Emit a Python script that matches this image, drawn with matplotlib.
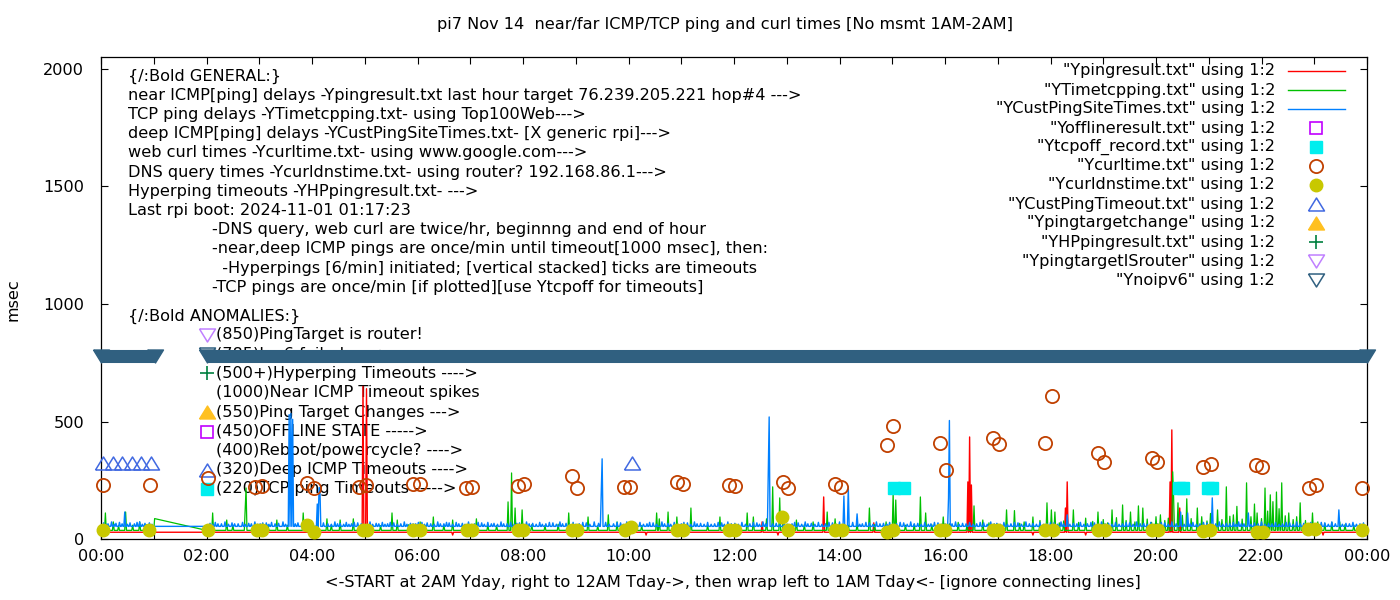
import numpy as np
import matplotlib
matplotlib.use("Agg")
import matplotlib.pyplot as plt

TITLE = "pi7 Nov 14  near/far ICMP/TCP ping and curl times [No msmt 1AM-2AM]"
XLABEL = "<-START at 2AM Yday, right to 12AM Tday->, then wrap left to 1AM Tday<- [ignore connecting lines]"
YLABEL = "msec"

HOUR_TICKS = list(range(0, 25))
HOUR_LABELS = ["00:00", "", "02:00", "", "04:00", "", "06:00", "", "08:00", "", "10:00", "", "12:00",
               "", "14:00", "", "16:00", "", "18:00", "", "20:00", "", "22:00", "", "00:00"]
Y_TICKS = [0, 500, 1000, 1500, 2000]

# minutes of day; no measurements between these two
GAP = (61, 120)

# near ICMP (Ypingresult.txt): baseline + (minute, msec) spikes
NEAR_BASE = 30
NEAR_SPIKES = [(298, 650), (302, 640), (400, 18), (620, 18), (752, 74), (770, 18), (822, 180),
               (879, 70), (905, 18), (986, 244), (988, 435), (990, 231), (1060, 18), (1097, 133),
               (1099, 244), (1120, 18), (1216, 244), (1218, 465), (1227, 133), (1250, 18),
               (1320, 18), (1390, 18)]

# TCP ping (YTimetcpping.txt)
TCP_BASE = 38
TCP_SPIKES = [(5, 112), (14, 74), (20, 58), (28, 116), (36, 60), (44, 74), (52, 62), (61, 88),
              (127, 112), (143, 82), (150, 60), (164, 133), (165, 218), (175, 58), (190, 62),
              (200, 82), (212, 60), (230, 112), (245, 58), (257, 87), (262, 62), (272, 82),
              (287, 87), (300, 60), (318, 58), (331, 112), (337, 82), (350, 62), (363, 74),
              (378, 95), (390, 60), (400, 82), (415, 58), (427, 87), (440, 62), (450, 58),
              (463, 159), (467, 282), (471, 133), (479, 125), (490, 62), (505, 58), (520, 64),
              (532, 112), (545, 60), (554, 95), (565, 58), (577, 104), (587, 74), (600, 62),
              (615, 58), (632, 112), (635, 87), (645, 116), (655, 95), (660, 62), (671, 133),
              (690, 60), (704, 95), (715, 58), (725, 62), (735, 112), (742, 95), (757, 87),
              (764, 223), (772, 176), (776, 104), (780, 64), (791, 82), (800, 62), (810, 74),
              (826, 116), (835, 87), (850, 60), (860, 64), (874, 133), (880, 62), (893, 74),
              (901, 197), (904, 167), (915, 60), (925, 64), (932, 180), (938, 112), (945, 62),
              (958, 95), (965, 66), (975, 72), (985, 60), (993, 142), (1003, 82), (1010, 70),
              (1020, 64), (1030, 125), (1039, 122), (1045, 68), (1050, 74), (1060, 95),
              (1068, 80), (1076, 155), (1081, 125), (1085, 116), (1090, 70), (1095, 78),
              (1106, 125), (1112, 72), (1120, 90), (1128, 76), (1134, 116), (1140, 84),
              (1145, 70), (1150, 125), (1155, 92), (1162, 146), (1166, 80), (1171, 116),
              (1176, 74), (1180, 142), (1185, 133), (1190, 86), (1195, 72), (1200, 96),
              (1205, 104), (1210, 80), (1214, 90), (1219, 287), (1220, 180), (1225, 155),
              (1230, 102), (1235, 172), (1240, 88), (1247, 133), (1252, 96), (1258, 78),
              (1262, 110), (1270, 125), (1275, 84), (1280, 223), (1284, 98), (1288, 104),
              (1292, 140), (1298, 86), (1303, 240), (1308, 96), (1312, 150), (1315, 112),
              (1320, 88), (1324, 218), (1327, 120), (1330, 189), (1333, 160), (1337, 201),
              (1340, 130), (1343, 240), (1347, 100), (1351, 112), (1356, 84), (1360, 96),
              (1364, 155), (1370, 80), (1378, 112), (1384, 74), (1392, 68), (1400, 72),
              (1409, 74), (1415, 62), (1425, 60)]

# deep ICMP (YCustPingSiteTimes.txt)
DEEP_BASE = 55
DEEP_SPIKES = [(3, 70), (6, 64), (8, 66), (12, 74), (15, 64), (17, 68), (21, 72), (24, 66),
               (27, 116), (30, 64), (33, 70), (38, 66), (41, 72), (44, 74), (47, 64), (50, 68),
               (55, 70), (58, 64), (124, 68), (127, 64), (130, 72), (133, 66), (137, 66),
               (141, 74), (145, 64), (149, 70), (152, 66), (156, 66), (161, 72), (164, 64),
               (168, 68), (171, 66), (175, 74), (178, 64), (181, 66), (184, 70), (188, 70),
               (191, 64), (194, 72), (198, 66), (202, 68), (207, 74), (210, 64), (214, 530),
               (216, 535), (218, 510), (221, 66), (224, 70), (229, 66), (232, 72), (236, 72),
               (240, 64), (246, 150), (248, 219), (249, 219), (253, 70), (258, 66), (262, 64),
               (266, 74), (269, 66), (272, 68), (276, 64), (279, 72), (282, 64), (285, 66),
               (288, 72), (292, 70), (296, 66), (306, 74), (309, 64), (313, 68), (316, 66),
               (320, 72), (323, 64), (326, 66), (329, 72), (333, 70), (337, 64), (341, 66),
               (345, 74), (348, 64), (352, 68), (355, 66), (358, 66), (361, 72), (365, 72),
               (368, 64), (371, 70), (375, 66), (379, 64), (383, 74), (386, 66), (390, 66),
               (393, 72), (396, 70), (400, 64), (404, 72), (407, 66), (411, 68), (414, 64),
               (418, 74), (421, 64), (425, 66), (429, 72), (433, 70), (436, 64), (440, 72),
               (444, 66), (447, 68), (451, 64), (455, 74), (458, 66), (462, 66), (466, 72),
               (470, 64), (473, 68), (476, 70), (480, 64), (484, 74), (487, 66), (491, 68),
               (495, 64), (499, 72), (502, 64), (506, 66), (510, 72), (514, 70), (518, 64),
               (522, 74), (525, 66), (529, 68), (533, 64), (537, 72), (540, 64), (544, 66),
               (548, 72), (552, 70), (556, 64), (561, 74), (566, 68), (569, 200), (570, 342),
               (574, 72), (578, 64), (583, 66), (587, 72), (591, 70), (594, 64), (598, 74),
               (602, 66), (606, 68), (609, 64), (613, 72), (617, 64), (621, 66), (624, 72),
               (628, 70), (632, 64), (638, 74), (641, 66), (645, 68), (648, 64), (652, 72),
               (656, 64), (660, 66), (663, 72), (667, 70), (671, 64), (675, 74), (678, 66),
               (682, 68), (686, 64), (690, 72), (694, 64), (698, 66), (702, 72), (706, 70),
               (709, 64), (713, 74), (717, 66), (721, 68), (725, 64), (729, 72), (733, 64),
               (738, 66), (742, 72), (746, 70), (749, 64), (753, 74), (756, 66), (759, 290),
               (760, 520), (764, 66), (768, 68), (772, 64), (777, 72), (781, 64), (786, 66),
               (789, 72), (793, 70), (797, 64), (801, 74), (804, 66), (808, 68), (812, 64),
               (816, 72), (820, 64), (824, 66), (828, 72), (832, 70), (836, 64), (840, 74),
               (845, 184), (850, 223), (855, 72), (860, 108), (863, 64), (866, 66), (870, 72),
               (874, 70), (878, 64), (882, 74), (886, 66), (890, 68), (894, 64), (897, 72),
               (901, 64), (905, 66), (909, 72), (913, 70), (917, 64), (921, 74), (925, 66),
               (929, 68), (933, 64), (937, 72), (941, 64), (944, 66), (948, 72), (952, 70),
               (956, 64), (960, 66), (964, 175), (965, 505), (968, 66), (972, 74), (976, 64),
               (980, 68), (984, 66), (988, 72), (992, 64), (996, 66), (1000, 72), (1004, 70),
               (1008, 64), (1012, 74), (1016, 66), (1019, 68), (1023, 64), (1027, 72),
               (1031, 64), (1035, 66), (1039, 72), (1043, 70), (1047, 64), (1052, 74),
               (1056, 66), (1060, 68), (1064, 64), (1068, 72), (1072, 64), (1076, 66),
               (1080, 72), (1084, 70), (1088, 64), (1092, 74), (1095, 66), (1099, 104),
               (1102, 64), (1106, 68), (1110, 66), (1114, 72), (1118, 64), (1122, 66),
               (1126, 72), (1130, 70), (1134, 64), (1138, 74), (1142, 66), (1146, 68),
               (1150, 64), (1154, 72), (1158, 64), (1162, 66), (1166, 72), (1170, 70),
               (1174, 64), (1178, 74), (1182, 66), (1186, 68), (1190, 64), (1194, 72),
               (1198, 64), (1202, 66), (1206, 72), (1210, 70), (1214, 64), (1218, 74),
               (1223, 66), (1228, 116), (1232, 64), (1236, 112), (1239, 66), (1242, 72),
               (1246, 64), (1250, 66), (1254, 72), (1258, 70), (1261, 64), (1264, 176),
               (1268, 66), (1272, 74), (1276, 64), (1280, 68), (1284, 66), (1288, 72),
               (1291, 64), (1294, 74), (1297, 66), (1300, 66), (1305, 112), (1308, 64),
               (1312, 70), (1316, 66), (1320, 74), (1324, 64), (1328, 68), (1332, 66),
               (1336, 72), (1340, 64), (1344, 66), (1348, 72), (1352, 70), (1356, 64),
               (1360, 74), (1364, 66), (1368, 68), (1372, 64), (1376, 72), (1380, 64),
               (1384, 66), (1388, 72), (1392, 70), (1396, 64), (1400, 74), (1404, 66),
               (1408, 125), (1412, 64), (1416, 68), (1420, 66), (1424, 72), (1428, 64),
               (1432, 66), (1436, 70)]

# web curl times (Ycurltime.txt), hours / msec
CURL_T = [0.04, 0.92, 2.03, 2.92, 3.05, 3.91, 4.04, 4.90, 5.02, 5.92, 6.04, 6.92, 7.03, 7.91, 8.02,
          8.93, 9.03, 9.91, 10.03, 10.92, 11.03, 11.90, 12.02, 12.93, 13.03, 13.92, 14.03, 14.90,
          15.01, 15.90, 16.02, 16.91, 17.02, 17.90, 18.03, 18.90, 19.01, 19.92, 20.02, 20.89,
          21.04, 21.90, 22.01, 22.90, 23.03, 23.90]
CURL_V = [231, 231, 261, 223, 227, 240, 219, 223, 231, 235, 235, 219, 223, 227, 235,
          270, 219, 223, 223, 244, 235, 231, 227, 244, 219, 235, 223, 401,
          482, 410, 295, 431, 406, 410, 610, 367, 329, 346, 329, 308,
          321, 316, 308, 219, 231, 219]

# DNS query times (Ycurldnstime.txt)
DNS_T = [0.04, 0.91, 2.03, 2.96, 3.05, 3.91, 4.04, 4.97, 5.04, 5.91, 6.05, 6.94, 7.03, 7.91, 8.00,
         8.93, 9.02, 9.93, 10.05, 10.92, 11.03, 11.91, 12.02, 12.91, 13.02, 13.91, 14.05, 14.90,
         15.01, 15.90, 16.00, 16.91, 17.00, 17.90, 18.05, 18.90, 19.03, 19.92, 20.04, 20.89,
         21.02, 21.91, 22.03, 22.88, 23.01, 23.90]
DNS_V = [40, 40, 40, 40, 40, 61, 31, 40, 40, 40, 40, 40, 40, 40, 40,
         40, 40, 40, 52, 40, 40, 40, 40, 95, 40, 40, 40, 31,
         40, 40, 40, 40, 40, 40, 40, 40, 40, 40, 40, 36,
         40, 31, 33, 42, 42, 40]

# deep ICMP timeouts (YCustPingTimeout.txt)
CPT_T = [0.04, 0.22, 0.40, 0.58, 0.76, 0.94, 10.07]
CPT_V = [325, 325, 325, 325, 325, 325, 325]

# TCP ping timeouts (Ytcpoff_record.txt)
TCPOFF_T = [15.03, 15.22, 20.44, 20.51, 20.99, 21.06]
TCPOFF_V = [220, 220, 220, 220, 220, 220]

# files with no points on this day
OFFLINE_T, OFFLINE_V = [], []
PTC_T, PTC_V = [], []
HP_T, HP_V = [], []
ISR_T, ISR_V = [], []

# no ipv6 (Ynoipv6): spans of minutes flagged every minute
NOIPV6_SPANS = [(0, 61), (120, 1440)]
NOIPV6_V = 780

LEGEND_LABELS = ['"Ypingresult.txt" using 1:2', '"YTimetcpping.txt" using 1:2',
                 '"YCustPingSiteTimes.txt" using 1:2', '"Yofflineresult.txt" using 1:2',
                 '"Ytcpoff_record.txt" using 1:2', '"Ycurltime.txt" using 1:2',
                 '"Ycurldnstime.txt" using 1:2', '"YCustPingTimeout.txt" using 1:2',
                 '"Ypingtargetchange" using 1:2', '"YHPpingresult.txt" using 1:2',
                 '"YpingtargetISrouter" using 1:2', '"Ynoipv6" using 1:2']

GENERAL_LINES = [
    "{/:Bold GENERAL:}",
    "near ICMP[ping] delays -Ypingresult.txt last hour target 76.239.205.221 hop#4 --->",
    "TCP ping delays -YTimetcpping.txt- using Top100Web--->",
    "deep ICMP[ping] delays -YCustPingSiteTimes.txt- [X generic rpi]--->",
    "web curl times -Ycurltime.txt- using www.google.com--->",
    "DNS query times -Ycurldnstime.txt- using router? 192.168.86.1--->",
    "Hyperping timeouts -YHPpingresult.txt- --->",
    "Last rpi boot: 2024-11-01 01:17:23",
]
NOTE_LINES = [
    "-DNS query, web curl are twice/hr, beginnng and end of hour",
    "-near,deep ICMP pings are once/min until timeout[1000 msec], then:",
    "  -Hyperpings [6/min] initiated; [vertical stacked] ticks are timeouts",
    "-TCP pings are once/min [if plotted][use Ytcpoff for timeouts]",
]
ANOMALY_HEAD = "{/:Bold ANOMALIES:}"
ANOMALY_LINES = [
    "(850)PingTarget is router!",
    "(785)Ipv6 failed ----->",
    "(500+)Hyperping Timeouts ---->",
    "(1000)Near ICMP Timeout spikes",
    "(550)Ping Target Changes --->",
    "(450)OFFLINE STATE ----->",
    "(400)Reboot/powercycle? ---->",
    "(320)Deep ICMP Timeouts ---->",
    "(220)TCP ping Timeouts ----->",
]

C_NEAR, C_TCP, C_DEEP = "#ff0000", "#00c000", "#0080ff"
C_OFF, C_TCPOFF, C_CURL, C_DNS = "#c000ff", "#00eeee", "#c04000", "#c8c800"
C_CPT, C_PTC, C_HP, C_ISR, C_V6 = "#4169e1", "#ffc020", "#008040", "#c080ff", "#306080"

TRI_UP = [(-8, -6.5), (8, -6.5), (0, 6.5), (-8, -6.5)]
TRI_DN = [(-8, 6.5), (8, 6.5), (0, -6.5), (-8, 6.5)]
FS = 11.6
W, H = 1400, 600


def build(base, spikes):
    pts = {0: base, GAP[0]: base, GAP[1]: base, 1439: base}
    for m, v in spikes:
        for n in (m - 1, m + 1):
            if 0 <= n <= 1439 and not (GAP[0] < n < GAP[1]):
                pts.setdefault(n, base)
    for m, v in spikes:
        pts[m] = v
    ms = sorted(pts)
    return np.array(ms) / 60.0, np.array([pts[m] for m in ms])


fig = plt.figure(figsize=(14, 6), dpi=100)
ax = fig.add_axes([101 / W, 1 - 539.3 / H, 1266 / W, 482.3 / H])
ax.set_xlim(0, 24)
ax.set_ylim(0, 2050)

t, v = build(NEAR_BASE, NEAR_SPIKES)
ax.plot(t, v, color=C_NEAR, lw=1.0, zorder=3)
t, v = build(TCP_BASE, TCP_SPIKES)
ax.plot(t, v, color=C_TCP, lw=0.9, zorder=3)
t, v = build(DEEP_BASE, DEEP_SPIKES)
ax.plot(t, v, color=C_DEEP, lw=1.0, zorder=3)

pt = dict(ls="none", zorder=4, clip_on=False)
ax.plot(OFFLINE_T, OFFLINE_V, marker="s", ms=9.2, mfc="none", mec=C_OFF, mew=1.2, **pt)
ax.plot(TCPOFF_T, TCPOFF_V, marker="s", ms=9.2, mfc=C_TCPOFF, mec=C_TCPOFF, **pt)
ax.plot(CURL_T, CURL_V, marker="o", ms=9.5, mfc="none", mec=C_CURL, mew=1.3, **pt)
ax.plot(DNS_T, DNS_V, marker="o", ms=9.0, mfc=C_DNS, mec=C_DNS, **pt)
ax.plot(CPT_T, CPT_V, marker=TRI_UP, ms=11.5, mfc="none", mec=C_CPT, mew=1.1, **pt)
ax.plot(PTC_T, PTC_V, marker=TRI_UP, ms=11.5, mfc=C_PTC, mec=C_PTC, **pt)
ax.plot(HP_T, HP_V, marker="+", ms=9.5, mec=C_HP, mew=1.2, **pt)
ax.plot(ISR_T, ISR_V, marker=TRI_DN, ms=11.5, mfc="none", mec=C_ISR, mew=1.1, **pt)

# no-ipv6 flags: one triangle per minute, they merge into a band
for s, e in NOIPV6_SPANS:
    ax.plot([s / 60, e / 60], [NOIPV6_V, NOIPV6_V], color=C_V6, lw=9.4,
            solid_capstyle="butt", zorder=5, clip_on=False)
    ax.plot([s / 60, e / 60], [NOIPV6_V, NOIPV6_V], ls="none", marker=TRI_DN, ms=11.5,
            mfc=C_V6, mec=C_V6, zorder=5, clip_on=False)

ax.set_xticks(HOUR_TICKS)
ax.set_xticklabels(HOUR_LABELS)
ax.set_yticks(Y_TICKS)
ax.tick_params(direction="in", length=5, width=0.8, top=True, right=True,
               labelsize=FS, colors="black")
ax.tick_params(axis="x", pad=7)
ax.tick_params(axis="y", pad=12)
for sp in ax.spines.values():
    sp.set_linewidth(0.9)

fig.text(725 / W, 1 - 25 / H, TITLE, ha="center", va="center", fontsize=FS)
fig.text(733 / W, 1 - 583 / H, XLABEL, ha="center", va="center", fontsize=FS)
fig.text(13 / W, 1 - 300 / H, YLABEL, ha="center", va="center", rotation=90, fontsize=FS)


def ftext(x, y, s, ha="left"):
    ax.text(x / W, 1 - y / H, s, transform=fig.transFigure, ha=ha, va="center",
            fontsize=FS, zorder=1)


def fmark(x, y, **kw):
    ax.plot([x / W], [1 - y / H], transform=fig.transFigure, ls="none", clip_on=False, **kw)


for i, s in enumerate(GENERAL_LINES):
    ftext(128, 76 + 19.2 * i, s)
for i, s in enumerate(NOTE_LINES):
    ftext(212, 229.6 + 19.2 * i, s)
ftext(128, 316, ANOMALY_HEAD)
for i, s in enumerate(ANOMALY_LINES):
    ftext(216, 335 + 19.25 * i, s)

amk = dict(zorder=1)
fmark(207, 335, marker=TRI_DN, ms=11.5, mfc="none", mec=C_ISR, mew=1.1, **amk)
fmark(207, 354, marker=TRI_DN, ms=11.5, mfc="none", mec=C_V6, mew=1.1, **amk)
fmark(207, 373, marker="+", ms=9.5, mec=C_HP, mew=1.2, **amk)
fmark(207, 412, marker=TRI_UP, ms=11.5, mfc=C_PTC, mec=C_PTC, **amk)
fmark(207, 432, marker="s", ms=9.2, mfc="none", mec=C_OFF, mew=1.2, **amk)
fmark(207, 470, marker=TRI_UP, ms=11.5, mfc="none", mec=C_CPT, mew=1.1, **amk)
fmark(207, 489, marker="s", ms=9.2, mfc=C_TCPOFF, mec=C_TCPOFF, **amk)

# key, right-justified like gnuplot
key_marks = [None, None, None,
             dict(marker="s", ms=9.2, mfc="none", mec=C_OFF, mew=1.2),
             dict(marker="s", ms=9.2, mfc=C_TCPOFF, mec=C_TCPOFF),
             dict(marker="o", ms=9.5, mfc="none", mec=C_CURL, mew=1.3),
             dict(marker="o", ms=9.0, mfc=C_DNS, mec=C_DNS),
             dict(marker=TRI_UP, ms=11.5, mfc="none", mec=C_CPT, mew=1.1),
             dict(marker=TRI_UP, ms=11.5, mfc=C_PTC, mec=C_PTC),
             dict(marker="+", ms=9.5, mec=C_HP, mew=1.2),
             dict(marker=TRI_DN, ms=11.5, mfc="none", mec=C_ISR, mew=1.1),
             dict(marker=TRI_DN, ms=11.5, mfc="none", mec=C_V6, mew=1.1)]
key_lines = [C_NEAR, C_TCP, C_DEEP]
for i, lab in enumerate(LEGEND_LABELS):
    y = 71 + 19.0 * i
    ftext(1275, y, lab, ha="right")
    if i < 3:
        ax.plot([1288 / W, 1345 / W], [1 - y / H, 1 - y / H], transform=fig.transFigure,
                color=key_lines[i], lw=1.0, clip_on=False)
    else:
        fmark(1316, y, **key_marks[i])

fig.savefig("out.png", dpi=100)
